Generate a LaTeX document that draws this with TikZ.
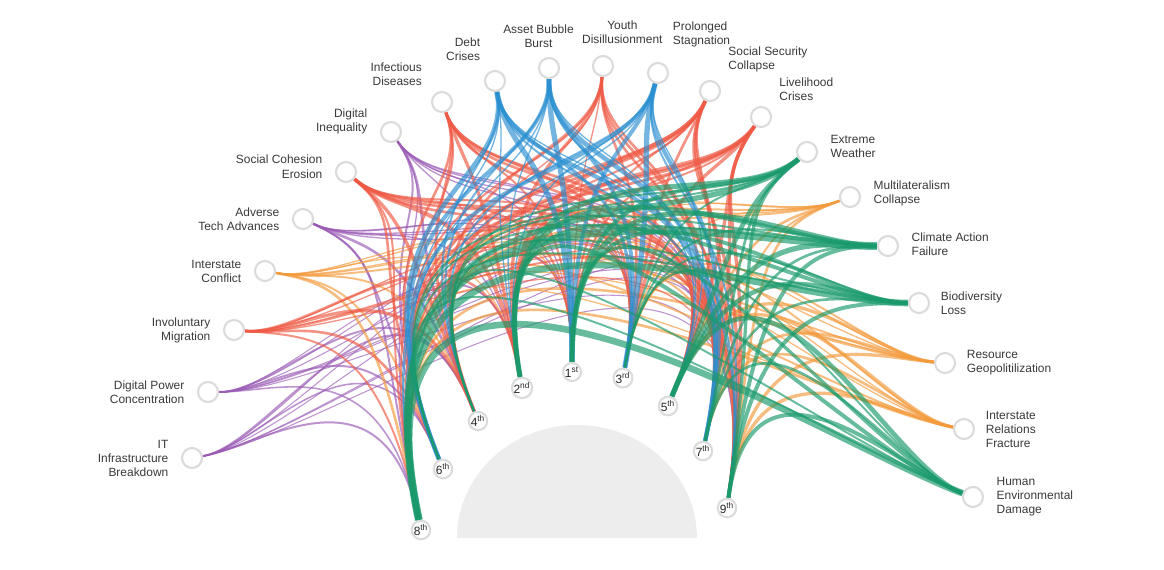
\documentclass[tikz,border=0pt]{standalone}
\usepackage{fontspec}
\setmainfont{Liberation Sans}
\usetikzlibrary{positioning,backgrounds}

\definecolor{rred}{HTML}{EE5A45}
\definecolor{rblue}{HTML}{2A8FD0}
\definecolor{rgreen}{HTML}{1A9A6C}
\definecolor{rorange}{HTML}{F39A3C}
\definecolor{rpurple}{HTML}{9A5BB5}

% direction in which the links arrive at the rank nodes 1st..9th
\def\rankin{{90,100,80,112,68,112,78,102,82}}

% one risk to all nine ranks: source, colour, out angle, widths
\newcommand\risklinks[4]{%
  \foreach \w [count=\rk] in {#4}{%
    \pgfmathsetmacro\ia{\rankin[\rk-1]}%
    \draw[link,#2,line width=\w*0.75pt] (#1) to[out=#3,in=\ia] (r\rk);
  }}

\begin{document}
\begin{tikzpicture}[x=0.02cm,y=-0.02cm,
    risk/.style={circle,draw=black!14,line width=1.2pt,fill=white,
                 minimum size=0.4cm,inner sep=0pt},
    rank/.style={risk,minimum size=0.36cm,text=black!85,
                 font=\fontsize{6.8}{7}\selectfont},
    lab/.style={font=\fontsize{6.8}{8}\selectfont,text=black!78,inner sep=0pt},
    link/.style={opacity=0.66,out looseness=0.7,in looseness=1.9}]
  \useasboundingbox (0,0) rectangle (1164,569);

  % risks on the outer arc
  \foreach \n/\x/\y in {it/192/458, dpc/208/392, im/234/330, ic/265/271,
      ata/303/219, sce/346/172, di/391/132, id/442/102, dc/495/81,
      abb/549/68, yd/603/66, ps/658/73, ssc/710/91, lc/761/117,
      ew/807/152, mc/850/197, caf/888/246, bl/919/303, rg/945/363,
      irf/964/429, hed/973/497}
    \node[risk] (\n) at (\x,\y) {};

  % ranks on the inner arc
  \foreach \n/\x/\y/\s in {1/572/372/st, 2/522/388/nd, 3/623/378/rd,
      4/478/421/th, 5/668/406/th, 6/443/469/th, 7/703/451/th,
      8/421/530/th, 9/727/508/th}
    \node[rank] (r\n) at (\x,\y) {\n\textsuperscript{\s}};

  % labels
  \node[lab,align=right,left=7pt of it] (it-l) {IT\\Infrastructure\\Breakdown};
  \node[lab,align=right,left=7pt of dpc] (dpc-l) {Digital Power\\Concentration};
  \node[lab,align=right,left=7pt of im] (im-l) {Involuntary\\Migration};
  \node[lab,align=right,left=7pt of ic] (ic-l) {Interstate\\Conflict};
  \node[lab,align=right,left=7pt of ata] (ata-l) {Adverse\\Tech Advances};
  \node[lab,align=right,left=7pt of sce,yshift=3pt] (sce-l) {Social Cohesion\\Erosion};
  \node[lab,align=right,left=7pt of di,yshift=6pt] (di-l) {Digital\\Inequality};
  \node[lab,align=right,left=5pt of id,yshift=16pt] (id-l) {Infectious\\Diseases};
  \node[lab,align=right,left=2pt of dc,yshift=18pt] (dc-l) {Debt\\Crises};
  \node[lab,align=center,above=5pt of abb,xshift=-6pt] (abb-l) {Asset Bubble\\Burst};
  \node[lab,align=center,above=6pt of yd,xshift=11pt] (yd-l) {Youth\\Disillusionment};
  \node[lab,align=left,right=2pt of ps,yshift=22pt] (ps-l) {Prolonged\\Stagnation};
  \node[lab,align=left,right=4pt of ssc,yshift=18pt] (ssc-l) {Social Security\\Collapse};
  \node[lab,align=left,right=4pt of lc,yshift=16pt] (lc-l) {Livelihood\\Crises};
  \node[lab,align=left,right=7pt of ew,yshift=3pt] (ew-l) {Extreme\\Weather};
  \node[lab,align=left,right=7pt of mc,yshift=2pt] (mc-l) {Multilateralism\\Collapse};
  \node[lab,align=left,right=7pt of caf,yshift=1pt] (caf-l) {Climate Action\\Failure};
  \node[lab,align=left,right=6pt of bl] (bl-l) {Biodiversity\\Loss};
  \node[lab,align=left,right=6pt of rg] (rg-l) {Resource\\Geopolitilization};
  \node[lab,align=left,right=6pt of irf] (irf-l) {Interstate\\Relations\\Fracture};
  \node[lab,align=left,right=7pt of hed] (hed-l) {Human\\Environmental\\Damage};

  \begin{scope}[on background layer]
    \fill[black!7] (457,538) arc[start angle=180,end angle=0,
                                 x radius=2.4cm,y radius=2.26cm] -- cycle;
    % technological
    \risklinks{it}{rpurple}{10}{0.8,0.8,0.8,1.5,0.8,1.2,0.8,1.5,0.8}
    \risklinks{dpc}{rpurple}{0}{0.8,0.8,0.8,1.5,0.8,1.5,0.8,1.2,0.8}
    \risklinks{ata}{rpurple}{-25}{1,1,1,2,1,1.5,1,1.5,1}
    \risklinks{di}{rpurple}{-55}{1,1,1,2,1,1.5,1,1,1}
    % geopolitical
    \risklinks{ic}{rorange}{-10}{1,1,1,1.5,1,1.5,1,2,1.5}
    \risklinks{mc}{rorange}{-160}{1,1,1,1.5,2,1,1.5,1.5,2}
    \risklinks{rg}{rorange}{175}{1,1,1.5,1.5,2.5,1,2,2,2.5}
    \risklinks{irf}{rorange}{170}{1,1,1.5,1.5,2.5,1,2,2,2.5}
    % societal
    \risklinks{im}{rred}{-5}{1,2,1,2.5,1,2,1.5,1.5,1}
    \risklinks{sce}{rred}{-40}{1.5,3,1.5,2.5,1.5,2,2,1.5,2}
    \risklinks{id}{rred}{-70}{1.5,2.5,2,2,2,2,2,1.5,2}
    \risklinks{yd}{rred}{-95}{1,2.5,2,2,2,1.5,2,1,2}
    \risklinks{ssc}{rred}{-115}{1.5,3,2,2.5,2,2,2.5,1.5,2.5}
    \risklinks{lc}{rred}{-125}{1.5,3,2.5,2.5,2.5,2,2.5,1.5,2.5}
    % economic
    \risklinks{dc}{rblue}{-80}{4,1,2.5,1.5,1,3.5,3,1,1.5}
    \risklinks{abb}{rblue}{-90}{4,1,3,1.5,1,3,3.5,1,1.5}
    \risklinks{ps}{rblue}{-105}{3,1,4,1.5,1,3,3,1,1.5}
    % environmental
    \risklinks{ew}{rgreen}{-140}{3,4,1.5,1.5,3.5,1.5,2,4,2.5}
    \risklinks{caf}{rgreen}{180}{4,3.5,1.5,1.5,4,1.5,2,6,3}
    \risklinks{bl}{rgreen}{180}{3,3,1.5,1.5,3.5,1.5,2,5,3}
    \risklinks{hed}{rgreen}{160}{2.5,3,1.5,1.5,3.5,1.5,2,5,3}
  \end{scope}
\end{tikzpicture}
\end{document}
